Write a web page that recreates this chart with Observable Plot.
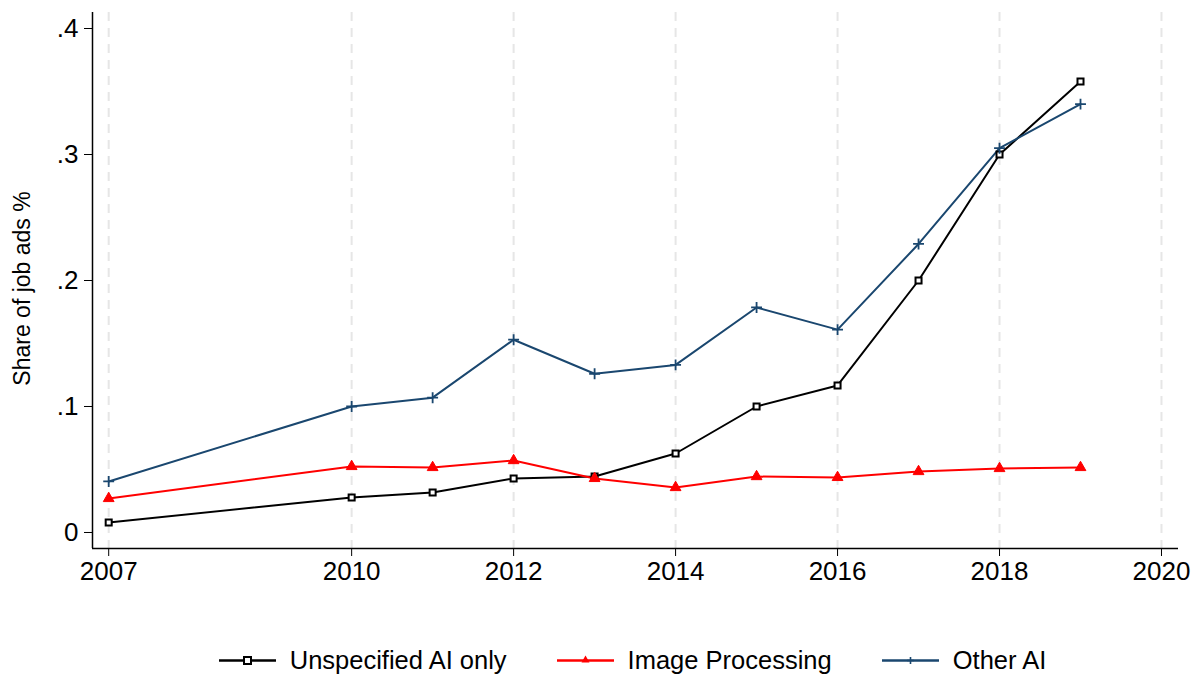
<!DOCTYPE html>
<html>
<head>
<meta charset="utf-8">
<script src="https://cdn.jsdelivr.net/npm/d3@7"></script>
<script src="https://cdn.jsdelivr.net/npm/@observablehq/plot@0.6"></script>
<style>
  html, body { margin: 0; padding: 0; background: #fff; }
  body { width: 1201px; height: 680px; overflow: hidden; font-family: "Liberation Sans", Arial, Helvetica, sans-serif; }
  #legend { display: flex; justify-content: center; align-items: center; height: 40px; font-size: 25.5px; color: #000; margin-left: 64px;}
  .item { display: flex; align-items: center; margin: 0 25px; }
  .item svg { margin-right: 14px; }
</style>
</head>
<body>
<div id="chart"></div>
<div id="legend"></div>
<script>
const years = [2007, 2010, 2011, 2012, 2013, 2014, 2015, 2016, 2017, 2018, 2019];
const seriesNames = ["Unspecified AI only", "Image Processing", "Other AI"];
const unspecified = [0.0079, 0.0278, 0.0317, 0.0429, 0.0444, 0.0627, 0.100, 0.1167, 0.200, 0.300, 0.358];
const imageProc   = [0.0270, 0.0524, 0.0516, 0.0571, 0.0429, 0.0357, 0.0444, 0.0437, 0.0484, 0.0508, 0.0516];
const otherAI     = [0.0405, 0.100, 0.107, 0.153, 0.126, 0.133, 0.1786, 0.161, 0.229, 0.305, 0.340];
const xTicks = [2007, 2010, 2012, 2014, 2016, 2018, 2020];
const yTicks = [0, 0.1, 0.2, 0.3, 0.4];
const yTickLabels = ["0", ".1", ".2", ".3", ".4"];
const colors = ["#000000", "#ff0000", "#1a476f"];
const xDomain = [2006.8, 2020.21];
const yDomain = [-0.0127, 0.4127];

const valuesBySeries = [unspecified, imageProc, otherAI];
const data = [];
seriesNames.forEach((s, i) => years.forEach((y, j) => data.push({series: s, year: y, value: valuesBySeries[i][j]})));
const sel = s => data.filter(d => d.series === s);

const chart = Plot.plot({
  width: 1201,
  height: 640,
  marginLeft: 92,
  marginRight: 23,
  marginTop: 12,
  marginBottom: 92,
  style: {fontFamily: "'Liberation Sans', Arial, Helvetica, sans-serif", fontSize: "26px", color: "#000", background: "#fff"},
  x: {domain: xDomain, ticks: xTicks, tickFormat: d => String(d), label: null},
  y: {domain: yDomain, ticks: yTicks, tickFormat: d => yTickLabels[yTicks.indexOf(d)], label: null},
  color: {domain: seriesNames, range: colors},
  marks: [
    Plot.ruleX(xTicks, {stroke: "#e6e6e6", strokeWidth: 2, strokeDasharray: "9,7"}),
    Plot.ruleX([xDomain[0]], {stroke: "#000", strokeWidth: 1.5}),
    Plot.ruleY([yDomain[0]], {stroke: "#000", strokeWidth: 1.5}),
    Plot.axisX({ticks: xTicks, tickSize: 8, tickPadding: 5, tickFormat: d => String(d), fontSize: 26, label: null, stroke: "#000"}),
    Plot.axisY({ticks: yTicks, tickSize: 8, tickPadding: 6, tickFormat: d => yTickLabels[yTicks.indexOf(d)], fontSize: 26, label: null, stroke: "#000"}),
    Plot.line(data, {x: "year", y: "value", stroke: "series", z: "series", strokeWidth: 2}),
    Plot.dot(sel("Unspecified AI only"), {x: "year", y: "value", symbol: "square", r: 3.4, fill: "#fff", stroke: "#000", strokeWidth: 2}),
    Plot.dot(sel("Image Processing"), {x: "year", y: "value", symbol: "triangle", r: 4, fill: "#ff0000", stroke: "#ff0000", strokeWidth: 1}),
    Plot.dot(sel("Other AI"), {x: "year", y: "value", symbol: "plus", r: 3.6, fill: "none", stroke: "#1a476f", strokeWidth: 1.8}),
    Plot.text(["Share of job ads %"], {frameAnchor: "left", textAnchor: "middle", dx: -70, dy: 8, rotate: -90, fontSize: 23, fill: "#000"})
  ]
});
document.getElementById("chart").appendChild(chart);

const legend = document.getElementById("legend");
const markerSvg = [
  '<rect x="25" y="6" width="7" height="7" fill="#fff" stroke="#000" stroke-width="2"/>',
  '<path d="M28.5,4.5 L32.5,11.5 L24.5,11.5 Z" fill="#ff0000"/>',
  '<path d="M28.5,6 V13 M25,9.5 H32" stroke="#1a476f" stroke-width="1.6"/>'
];
seriesNames.forEach((s, i) => {
  const div = document.createElement("div");
  div.className = "item";
  div.innerHTML = `<svg width="57" height="19"><line x1="0" x2="57" y1="9.5" y2="9.5" stroke="${colors[i]}" stroke-width="2.5"/>${markerSvg[i]}</svg><span>${s}</span>`;
  legend.appendChild(div);
});
</script>
</body>
</html>
